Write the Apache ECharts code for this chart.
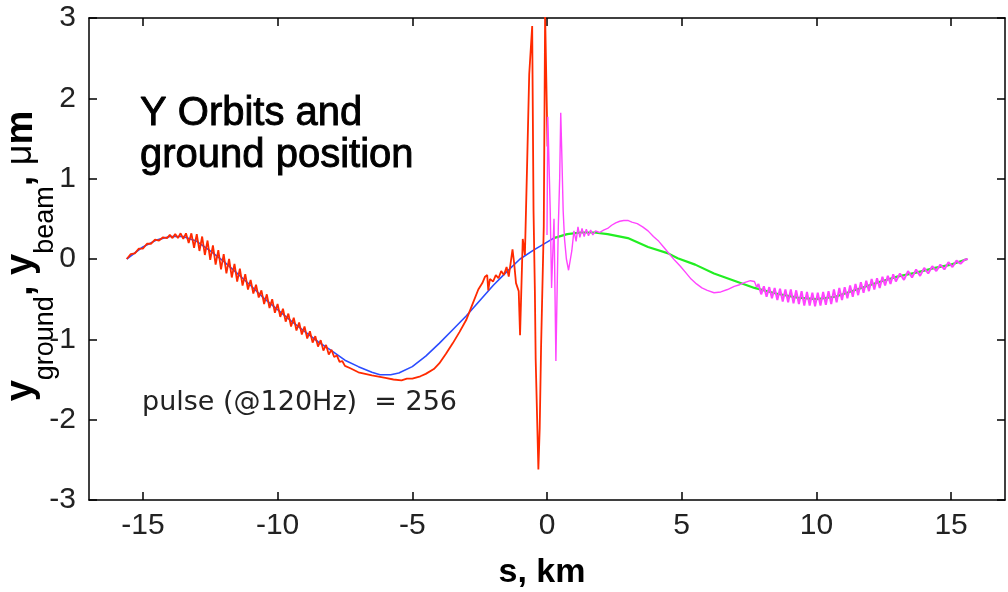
<!DOCTYPE html>
<html><head><meta charset="utf-8">
<script src="https://cdn.jsdelivr.net/npm/echarts@6/dist/echarts.min.js"></script>
<style>html,body{margin:0;padding:0;background:#fff}#c{width:1008px;height:592px}</style>
</head><body><div id="c"></div>
<script>
const xTicks = [-15, -10, -5, 0, 5, 10, 15];
const yTicks = [-3, -2, -1, 0, 1, 2, 3];

// ground position, left half (blue)
const groundLeft = [
  [-15.6,0.00],[-15.0,0.15],[-14.5,0.235],[-14.0,0.28],[-13.5,0.28],[-13.0,0.22],[-12.5,0.10],
  [-12.0,-0.03],[-11.5,-0.18],[-11.0,-0.33],[-10.5,-0.49],[-10.0,-0.63],[-9.5,-0.77],[-9.0,-0.90],
  [-8.5,-1.03],[-8.0,-1.14],[-7.5,-1.26],[-7.0,-1.34],[-6.5,-1.41],[-6.2,-1.44],[-5.8,-1.44],
  [-5.5,-1.42],[-5.0,-1.34],[-4.5,-1.21],[-4.0,-1.05],[-3.5,-0.88],[-3.0,-0.71],[-2.5,-0.52],
  [-2.0,-0.33],[-1.5,-0.16],[-1.0,0.00],[-0.5,0.11],[0.0,0.21],[0.25,0.26]
];

// beam orbit, left half (red)
const beamLeft = [
  [-15.60,0.00],[-15.45,0.06],[-15.30,0.07],[-15.15,0.13],[-15.00,0.13],[-14.85,0.19],[-14.70,0.19],
  [-14.55,0.24],[-14.40,0.23],[-14.25,0.27],[-14.10,0.26],[-14.00,0.30],[-13.90,0.26],[-13.80,0.31],
  [-13.70,0.26],[-13.60,0.32],[-13.50,0.25],[-13.40,0.32],[-13.30,0.20],[-13.20,0.32],[-13.10,0.14],
  [-13.00,0.31],[-12.90,0.10],[-12.80,0.28],[-12.70,0.05],[-12.60,0.23],[-12.50,-0.01],[-12.40,0.17],
  [-12.30,-0.07],[-12.20,0.11],[-12.10,-0.13],[-12.00,0.06],[-11.90,-0.18],[-11.80,0.00],[-11.70,-0.23],
  [-11.60,-0.06],[-11.50,-0.28],[-11.40,-0.12],[-11.30,-0.33],[-11.20,-0.19],[-11.10,-0.38],[-11.00,-0.26],
  [-10.90,-0.43],[-10.80,-0.32],[-10.70,-0.48],[-10.60,-0.39],[-10.50,-0.56],[-10.40,-0.44],[-10.30,-0.61],
  [-10.20,-0.50],[-10.10,-0.67],[-10.00,-0.56],[-9.90,-0.72],[-9.80,-0.62],[-9.70,-0.78],[-9.60,-0.68],
  [-9.50,-0.84],[-9.40,-0.73],[-9.30,-0.89],[-9.20,-0.79],[-9.10,-0.94],[-9.00,-0.84],[-8.90,-0.99],
  [-8.80,-0.90],[-8.70,-1.04],[-8.60,-0.96],[-8.50,-1.09],[-8.40,-1.01],[-8.30,-1.14],[-8.20,-1.07],
  [-8.10,-1.19],[-8.00,-1.13],[-7.90,-1.22],[-7.80,-1.20],[-7.70,-1.28],[-7.60,-1.27],[-7.50,-1.33],
  [-7.30,-1.36],[-7.00,-1.41],[-6.50,-1.45],[-6.00,-1.48],[-5.70,-1.50],[-5.40,-1.51],[-5.20,-1.49],
  [-5.00,-1.49],[-4.70,-1.46],[-4.50,-1.43],[-4.20,-1.37],[-4.00,-1.30],[-3.75,-1.18],[-3.50,-1.05],
  [-3.25,-0.91],[-3.00,-0.76],[-2.75,-0.55],[-2.55,-0.38],[-2.40,-0.30],[-2.30,-0.22],[-2.22,-0.20],
  [-2.18,-0.39],[-2.12,-0.25],[-2.00,-0.28],[-1.90,-0.20],[-1.80,-0.24],[-1.70,-0.15],[-1.60,-0.20],
  [-1.50,-0.10],[-1.42,-0.22],[-1.35,-0.05],[-1.28,0.12],[-1.22,-0.05],[-1.15,-0.30],[-1.05,-0.40],
  [-1.00,-0.95],[-0.94,-0.95],[-0.90,0.25],[-0.82,0.05],[-0.74,1.15],[-0.66,2.30],[-0.60,2.30],
  [-0.55,2.90],[-0.50,0.60],[-0.45,-0.40],[-0.42,-1.25],[-0.36,-1.25],[-0.32,-2.62],[-0.27,-2.10],
  [-0.22,-1.10],[-0.16,-1.10],[-0.12,0.40],[-0.07,3.05],[-0.02,3.05],[0.02,1.40]
];

// ground position, right half (green)
const groundRight = [
  [0.25,0.26],[0.75,0.31],[1.25,0.33],[1.75,0.33],[2.25,0.31],[3.0,0.26],[3.75,0.15],[4.5,0.07],
  [4.85,0.01],[5.5,-0.07],[6.2,-0.18],[6.95,-0.27],[7.7,-0.36],[8.5,-0.43],[9.3,-0.48],[10.0,-0.50],
  [10.7,-0.47],[11.5,-0.38],[12.3,-0.29],[13.0,-0.22],[13.7,-0.17],[14.4,-0.11],[15.0,-0.07],[15.6,0.0]
];

// beam orbit, right half (magenta)
const beamRight = [
  [0.00,0.30],[0.03,1.77],[0.07,1.77],[0.12,0.60],[0.17,-0.36],[0.22,-0.36],[0.26,0.50],[0.30,-0.50],
  [0.33,-1.27],[0.37,-0.50],[0.42,0.40],[0.47,1.00],[0.51,1.82],[0.55,1.30],[0.60,0.60],[0.65,0.25],
  [0.72,0.00],[0.80,-0.14],[0.86,-0.14],[0.92,0.10],[1.00,0.35],[1.08,0.22],[1.15,0.40],[1.22,0.27],
  [1.30,0.38],[1.38,0.28],[1.46,0.37],[1.54,0.29],[1.62,0.36],[1.70,0.30],[1.80,0.35],[1.95,0.33],
  [2.10,0.36],[2.25,0.38],[2.40,0.42],[2.55,0.45],[2.70,0.47],[2.85,0.48],[3.00,0.48],[3.15,0.46],
  [3.35,0.44],[3.55,0.40],[3.75,0.35],[3.95,0.28],[4.15,0.22],[4.35,0.14],[4.55,0.06],[4.75,-0.02],
  [4.95,-0.09],[5.15,-0.17],[5.35,-0.25],[5.55,-0.31],[5.75,-0.36],[5.95,-0.39],[6.20,-0.42],[6.45,-0.41],
  [6.70,-0.38],[6.95,-0.34],[7.15,-0.32],[7.35,-0.29],[7.55,-0.27],[7.70,-0.28],[7.78,-0.35],
  [7.85,-0.31],[7.95,-0.44],[8.05,-0.34],[8.15,-0.47],[8.25,-0.35],[8.35,-0.49],[8.45,-0.36],[8.55,-0.51],
  [8.65,-0.37],[8.75,-0.53],[8.85,-0.38],[8.95,-0.54],[9.05,-0.38],[9.15,-0.55],[9.25,-0.39],[9.35,-0.56],
  [9.45,-0.40],[9.55,-0.58],[9.65,-0.41],[9.75,-0.58],[9.85,-0.42],[9.95,-0.59],[10.05,-0.42],[10.15,-0.58],
  [10.25,-0.41],[10.35,-0.57],[10.45,-0.40],[10.55,-0.56],[10.65,-0.38],[10.75,-0.54],[10.85,-0.36],[10.95,-0.51],
  [11.05,-0.35],[11.15,-0.49],[11.25,-0.33],[11.35,-0.47],[11.45,-0.31],[11.55,-0.45],[11.65,-0.29],[11.75,-0.42],
  [11.85,-0.27],[11.95,-0.40],[12.05,-0.25],[12.15,-0.38],[12.25,-0.24],[12.35,-0.36],[12.45,-0.22],[12.55,-0.33],
  [12.65,-0.21],[12.75,-0.31],[12.85,-0.19],[12.95,-0.28],[13.10,-0.18],[13.25,-0.26],[13.40,-0.15],[13.55,-0.23],
  [13.70,-0.13],[13.85,-0.21],[14.00,-0.11],[14.15,-0.18],[14.30,-0.09],[14.45,-0.15],[14.60,-0.07],[14.75,-0.13],
  [14.90,-0.04],[15.05,-0.10],[15.20,-0.02],[15.35,-0.06],[15.50,-0.01],[15.62,0.00]
];

const FONT = '"Liberation Sans", Arial, sans-serif';
const axisLine = {show: true, onZero: false, lineStyle: {color: '#000', width: 1.5}};
const tickStyle = {color: '#000', width: 1.5};
const NOISY_START = 62; // index in beamRight where the dense ripple begins

const chart = echarts.init(document.getElementById('c'), null, {renderer: 'canvas'});
chart.setOption({
  animation: false,
  backgroundColor: '#fff',
  grid: {left: 89, right: 3, top: 18, bottom: 92, outerBoundsMode: 'none'},
  xAxis: [
    {type: 'value', min: -17, max: 17, position: 'bottom', axisLine: axisLine,
     axisTick: {show: true, inside: true, length: 8, customValues: xTicks, lineStyle: tickStyle},
     axisLabel: {customValues: xTicks, fontSize: 30, fontFamily: FONT, color: '#222', margin: 11},
     splitLine: {show: false}},
    {type: 'value', min: -17, max: 17, position: 'top', axisLine: axisLine,
     axisTick: {show: true, inside: true, length: 8, customValues: xTicks, lineStyle: tickStyle},
     axisLabel: {show: false}, splitLine: {show: false}}
  ],
  yAxis: [
    {type: 'value', min: -3, max: 3, interval: 1, position: 'left', axisLine: axisLine,
     axisTick: {show: true, inside: true, length: 8, customValues: yTicks, lineStyle: tickStyle},
     axisLabel: {customValues: yTicks, fontSize: 30, fontFamily: FONT, color: '#222', margin: 13},
     splitLine: {show: false}},
    {type: 'value', min: -3, max: 3, interval: 1, position: 'right', axisLine: axisLine,
     axisTick: {show: true, inside: true, length: 8, customValues: yTicks, lineStyle: tickStyle},
     axisLabel: {show: false}, splitLine: {show: false}}
  ],
  series: [
    {type: 'line', data: groundLeft, showSymbol: false, lineStyle: {color: '#2b4cff', width: 1.6}, z: 2},
    {type: 'line', data: beamLeft, showSymbol: false, lineStyle: {color: '#ff2a00', width: 1.8}, z: 3},
    {type: 'line', data: groundRight, showSymbol: false, lineStyle: {color: '#22ee22', width: 2.2}, z: 2},
    {type: 'line', data: beamRight.slice(0, NOISY_START + 1), showSymbol: false,
     lineStyle: {color: '#ff44ff', width: 1.4}, z: 3},
    {type: 'line', data: beamRight.slice(NOISY_START), showSymbol: false,
     lineStyle: {color: '#ff44ff', width: 2}, z: 3}
  ],
  graphic: [
    {type: 'text', x: 140, y: 93, z: 10,
     style: {text: 'Y Orbits and\nground position', font: '40px ' + FONT, fill: '#000',
             stroke: '#000', lineWidth: 0.9,
             lineHeight: 42, align: 'left', verticalAlign: 'top'}},
    {type: 'text', x: 142, y: 403, z: 10,
     style: {text: 'pulse (@120Hz)  = 256', font: '27px "DejaVu Sans", sans-serif', fill: '#222',
             align: 'left', verticalAlign: 'middle'}},
    {type: 'text', x: 542, y: 573, z: 10,
     style: {text: 's, km', font: 'bold 34px ' + FONT, fill: '#000',
             align: 'center', verticalAlign: 'middle'}},
    {type: 'text', x: 21.5, y: 256, rotation: Math.PI / 2, z: 10,
     style: {text: '{b|y}{s|ground}{b|, y}{s|beam}{b|, }{u|μ}{b|m}', fill: '#000',
             align: 'center', verticalAlign: 'middle',
             rich: {
               b: {fontSize: 38, fontWeight: 'bold', fontFamily: FONT, fill: '#000'},
               u: {fontSize: 36, fontFamily: FONT, fill: '#000'},
               s: {fontSize: 27, fontFamily: FONT, fill: '#000', padding: [48, 0, 0, 0]}
             }}}
  ]
});
</script>
</body></html>
